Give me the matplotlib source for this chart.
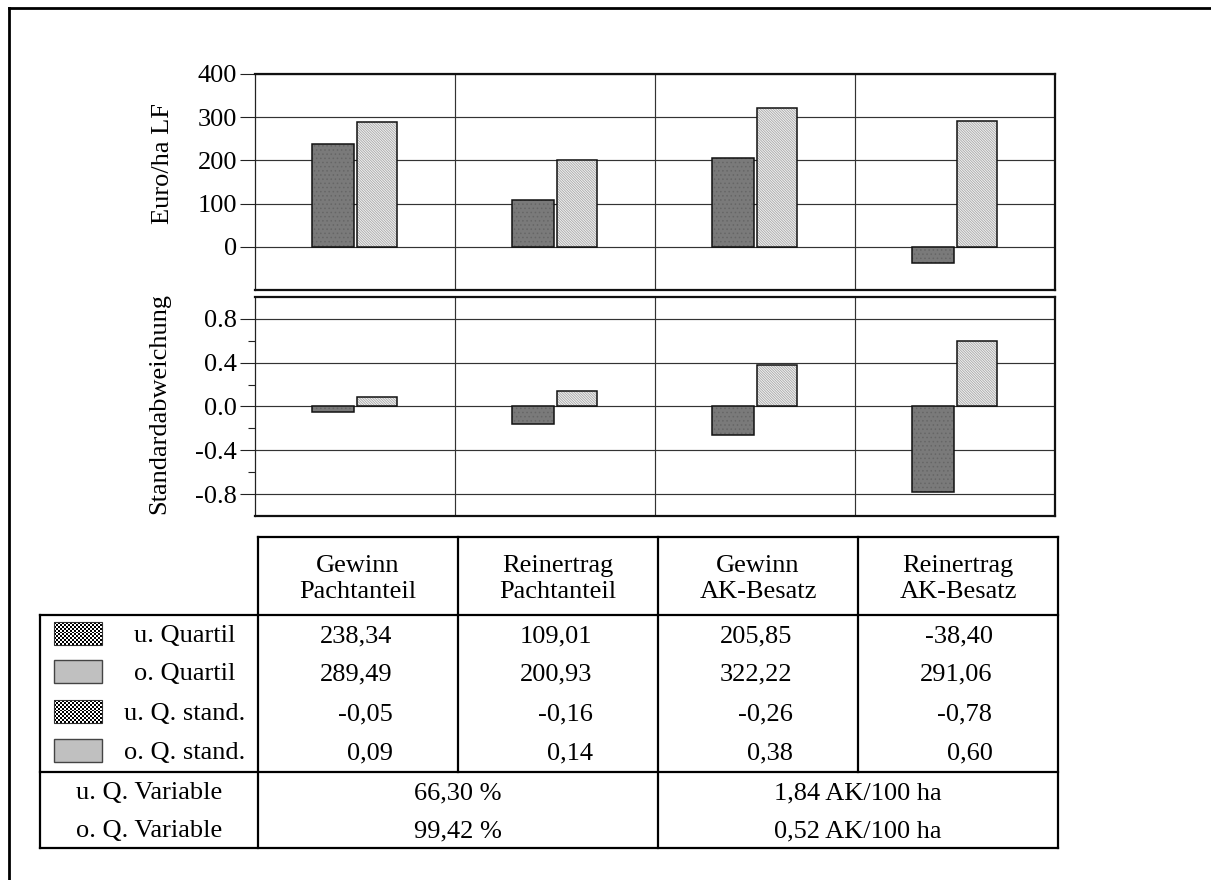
import numpy as np
import matplotlib
matplotlib.use("Agg")
import matplotlib.pyplot as plt
from matplotlib.patches import Rectangle
from matplotlib.ticker import FixedLocator, FixedFormatter

# ---------------- data ----------------
categories = [["Gewinn", "Pachtanteil"], ["Reinertrag", "Pachtanteil"],
              ["Gewinn", "AK-Besatz"], ["Reinertrag", "AK-Besatz"]]
u_quartil = [238.34, 109.01, 205.85, -38.40]
o_quartil = [289.49, 200.93, 322.22, 291.06]
u_stand = [-0.05, -0.16, -0.26, -0.78]
o_stand = [0.09, 0.14, 0.38, 0.60]
row_labels = ["u. Quartil", "o. Quartil", "u. Q. stand.", "o. Q. stand."]
variable_labels = ["u. Q. Variable", "o. Q. Variable"]
variable_pacht = ["66,30 %", "99,42 %"]
variable_ak = ["1,84 AK/100 ha", "0,52 AK/100 ha"]
top_ticks = [0, 100, 200, 300, 400]
top_ticklabels = ["0", "100", "200", "300", "400"]
sd_ticks = [-0.8, -0.4, 0.0, 0.4, 0.8]
sd_ticklabels = ["-0.8", "-0.4", "0.0", "0.4", "0.8"]
sd_minor = [-0.6, -0.2, 0.2, 0.6]

# ---------------- style ----------------
FONT = "Liberation Serif"
plt.rcParams["font.family"] = [FONT, "DejaVu Serif"]
plt.rcParams["hatch.linewidth"] = 0.6
FS = 19
W, H = 1211, 880
DARK = "#7a7a7a"
LIGHT = "#f2f2f2"
GRID = "#333333"

fig = plt.figure(figsize=(W / 100, H / 100), dpi=100)


def frame(px_left, px_top, px_right, px_bottom):
    return [px_left / W, 1 - px_bottom / H, (px_right - px_left) / W,
            (px_bottom - px_top) / H]


ax1 = fig.add_axes(frame(255, 74, 1055, 290))
ax2 = fig.add_axes(frame(255, 297, 1055, 516))

n = len(u_quartil)
x = np.arange(n)


def style_axis(ax, ylim, ticks, labels, minor=None):
    ax.set_xlim(0, n)
    ax.set_ylim(*ylim)
    ax.set_xticks([])
    ax.yaxis.set_major_locator(FixedLocator(ticks))
    ax.yaxis.set_major_formatter(FixedFormatter(labels))
    if minor:
        ax.yaxis.set_minor_locator(FixedLocator(minor))
    ax.tick_params(axis="y", which="major", direction="out", length=11,
                   width=0.8, color="#222222", pad=2, labelsize=FS)
    ax.tick_params(axis="y", which="minor", direction="out", length=5,
                   width=0.8, color="#222222")
    for lbl in ax.get_yticklabels():
        lbl.set_fontfamily(FONT)
    for t in ticks:
        ax.axhline(t, color=GRID, lw=0.85, zorder=1)
    for b in range(1, n):
        ax.axvline(b, color=GRID, lw=0.85, zorder=1)
    for side in ["top", "bottom", "right"]:
        ax.spines[side].set_linewidth(1.6)
        ax.spines[side].set_color("#111111")
    ax.spines["left"].set_linewidth(0.9)
    ax.spines["left"].set_color("#222222")
    ax.set_facecolor("white")


def draw_bars(ax, dark_vals, light_vals):
    ax.bar(x + 0.285, dark_vals, 0.21, align="edge", color=DARK,
           edgecolor="#666666", hatch="....", linewidth=0, zorder=3)
    ax.bar(x + 0.285, dark_vals, 0.21, align="edge", fill=False,
           edgecolor="#111111", linewidth=1.1, zorder=4)
    ax.bar(x + 0.5075, light_vals, 0.2025, align="edge", color=LIGHT,
           edgecolor="#a8a8a8", hatch="\\" * 13, linewidth=0,
           zorder=3)
    ax.bar(x + 0.5075, light_vals, 0.2025, align="edge", fill=False,
           edgecolor="#111111", linewidth=1.1, zorder=4)


style_axis(ax1, (-100, 400), top_ticks, top_ticklabels)
draw_bars(ax1, u_quartil, o_quartil)
style_axis(ax2, (-1.0, 1.0), sd_ticks, sd_ticklabels, sd_minor)
draw_bars(ax2, u_stand, o_stand)

fig.text(163 / W, 1 - 163 / H, "Euro/ha LF", rotation=90, ha="center",
         va="center", fontsize=FS, family=FONT)
fig.text(159 / W, 1 - 403 / H, "Standardabweichung", rotation=90,
         ha="center", va="center", fontsize=FS, family=FONT)

# ---------------- table / frame overlay (pixel layout) ----------------
axT = fig.add_axes([0, 0, 1, 1], zorder=-1)
axT.set_xlim(0, W)
axT.set_ylim(H, 0)
axT.axis("off")

LW = 1.6
def line(xs, ys, lw=LW):
    axT.plot(xs, ys, color="black", lw=lw, solid_capstyle="projecting")

# page frame (top and left)
line([8.5, W + 5], [8.5, 8.5], lw=2.0)
line([8.5, 8.5], [8.5, H + 5], lw=2.0)

col = [258, 458, 658, 858, 1058]
left = 40
y_head_top, y_head_bot, y_var, y_bot = 537, 615, 772, 848

line([col[0], col[-1]], [y_head_top, y_head_top])
line([left, col[-1]], [y_head_bot, y_head_bot])
line([left, col[-1]], [y_var, y_var])
line([left, col[-1]], [y_bot, y_bot])
line([left, left], [y_head_bot, y_bot])
for c in [col[0], col[2], col[4]]:
    line([c, c], [y_head_top, y_bot])
for c in [col[1], col[3]]:
    line([c, c], [y_head_top, y_var])

centers = [(col[i] + col[i + 1]) / 2 for i in range(n)]
head_base = [572, 598]
for i, cat in enumerate(categories):
    for k, word in enumerate(cat):
        axT.text(centers[i], head_base[k], word, ha="center", va="baseline",
                 fontsize=FS, family=FONT)

row_base = [642, 680, 720, 759]
series = [u_quartil, o_quartil, u_stand, o_stand]
checker = (np.indices((12, 24)).sum(axis=0) % 2).astype(float)
for r, (lab, vals) in enumerate(zip(row_labels, series)):
    yb = row_base[r]
    axT.text(185, yb, lab, ha="center", va="baseline", fontsize=FS,
             family=FONT)
    top = yb - 20
    if r % 2 == 0:
        axT.imshow(checker, cmap="gray", extent=(54, 102, top + 23, top),
                   interpolation="nearest", zorder=2, aspect="auto")
        axT.add_patch(Rectangle((54, top), 48, 23, fill=False,
                                edgecolor="#333333", lw=0.8, zorder=3))
    else:
        axT.add_patch(Rectangle((54, top), 48, 23, facecolor="#c0c0c0",
                                edgecolor="#444444", lw=1.0, zorder=3))
    for i, v in enumerate(vals):
        s = f"{v:.2f}".replace(".", ",")
        axT.text(centers[i] + 34.5, yb, s, ha="right", va="baseline",
                 fontsize=FS, family=FONT)

var_base = [799, 837]
for r in range(2):
    yb = var_base[r]
    axT.text((left + col[0]) / 2, yb, variable_labels[r], ha="center",
             va="baseline", fontsize=FS, family=FONT)
    axT.text((col[0] + col[2]) / 2, yb, variable_pacht[r], ha="center",
             va="baseline", fontsize=FS, family=FONT)
    axT.text((col[2] + col[4]) / 2, yb, variable_ak[r], ha="center",
             va="baseline", fontsize=FS, family=FONT)

axT.set_xlim(0, W)
axT.set_ylim(H, 0)

fig.savefig("out.png", dpi=100, facecolor="white")
